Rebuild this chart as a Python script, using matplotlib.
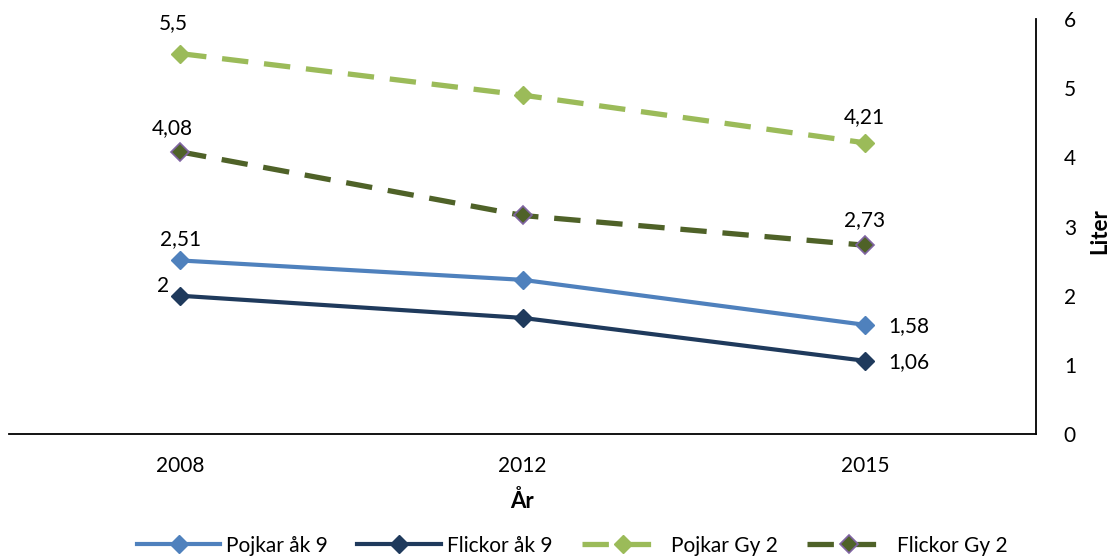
import matplotlib
matplotlib.use("Agg")
import matplotlib.pyplot as plt

plt.rcParams['font.family'] = ['Lato', 'DejaVu Sans']

years = ["2008", "2012", "2015"]
pojkar_ak9 = [2.51, 2.23, 1.58]
flickor_ak9 = [2.0, 1.68, 1.06]
pojkar_gy2 = [5.5, 4.90, 4.21]
flickor_gy2 = [4.08, 3.16, 2.73]

x = range(len(years))

fig = plt.figure(figsize=(11.11, 5.58), dpi=100)
ax = fig.add_axes([0.0081, 0.222, 0.9244, 0.744])

ax.plot(x, pojkar_ak9, color="#4F81BD", lw=3, marker="D", ms=9,
        label="Pojkar åk 9")
ax.plot(x, flickor_ak9, color="#1F3A5C", lw=3, marker="D", ms=9,
        label="Flickor åk 9")
ax.plot(x, pojkar_gy2, color="#9BBB59", lw=3.8, ls=(0, (5, 3)), marker="D", ms=9,
        label="Pojkar Gy 2")
ax.plot(x, flickor_gy2, color="#4F6228", lw=3.8, ls=(0, (5, 3)), marker="D", ms=9,
        mec="#8064A2", mew=1.2, label="Flickor Gy 2")

# data labels
fs = 15
ax.annotate("5,5", (0, pojkar_gy2[0]), xytext=(-5, 15), textcoords="offset points",
            ha="center", va="bottom", fontsize=fs)
ax.annotate("4,08", (0, flickor_gy2[0]), xytext=(-6, 10), textcoords="offset points",
            ha="center", va="bottom", fontsize=fs)
ax.annotate("2,51", (0, pojkar_ak9[0]), xytext=(0, 8), textcoords="offset points",
            ha="center", va="bottom", fontsize=fs)
ax.annotate("2", (0, flickor_ak9[0]), xytext=(-12, 0), textcoords="offset points",
            ha="center", va="bottom", fontsize=fs)
ax.annotate("4,21", (2, pojkar_gy2[2]), xytext=(0, 11), textcoords="offset points",
            ha="center", va="bottom", fontsize=fs)
ax.annotate("2,73", (2, flickor_gy2[2]), xytext=(0, 11), textcoords="offset points",
            ha="center", va="bottom", fontsize=fs)
ax.annotate("1,58", (2, pojkar_ak9[2]), xytext=(17, -1), textcoords="offset points",
            ha="left", va="center", fontsize=fs)
ax.annotate("1,06", (2, flickor_ak9[2]), xytext=(17, -1), textcoords="offset points",
            ha="left", va="center", fontsize=fs)

ax.set_xlim(-0.5, 2.5)
ax.set_ylim(0, 6)
ax.set_xticks(list(x))
ax.set_xticklabels(years)
ax.yaxis.tick_right()
ax.yaxis.set_label_position("right")
ax.tick_params(length=0, labelsize=fs, pad=16)
ax.tick_params(axis="y", pad=20)

for s in ["top", "left"]:
    ax.spines[s].set_visible(False)
ax.spines["bottom"].set_linewidth(1.3)
ax.spines["right"].set_linewidth(1.3)

ax.set_xlabel("År", fontsize=16, fontweight="bold", labelpad=10)
ax.set_ylabel("Liter", fontsize=16, fontweight="bold")
ax.yaxis.set_label_coords(1.052, 0.49)

fig.legend(*ax.get_legend_handles_labels(), loc="center", bbox_to_anchor=(0.515, 0.022),
           ncol=4, frameon=False, fontsize=fs, handlelength=4, columnspacing=1.4,
           handletextpad=0.3)

fig.savefig("out.png", dpi=100)
